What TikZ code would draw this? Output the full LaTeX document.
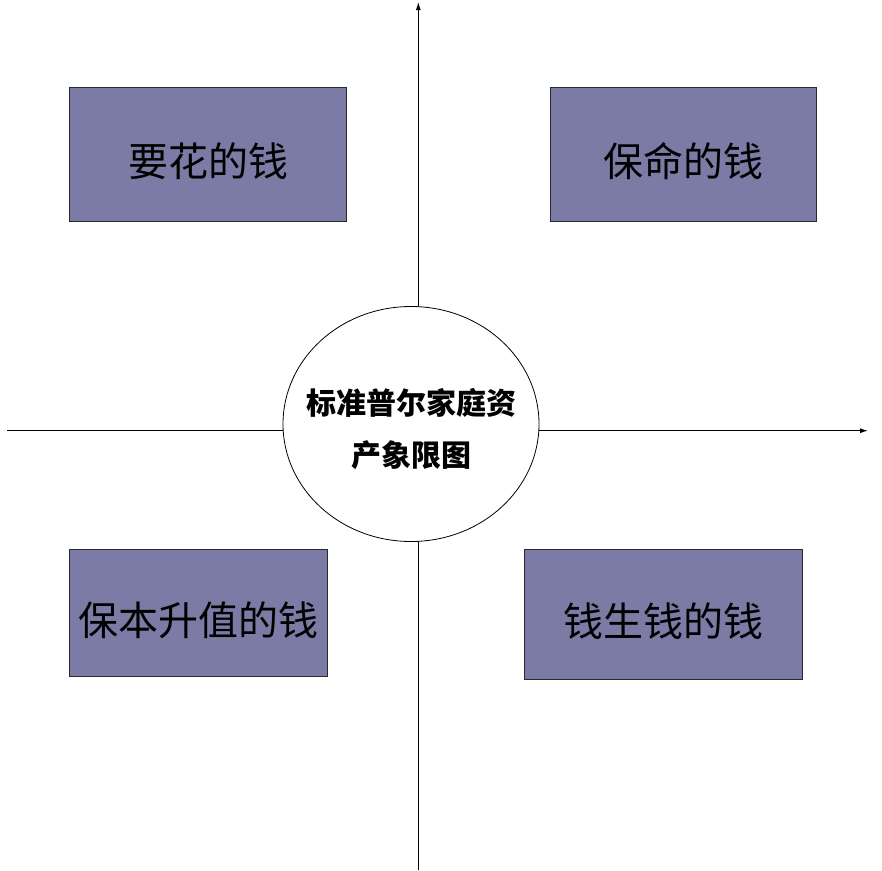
\documentclass[tikz,border=0pt]{standalone}
\usepackage{fontspec}
\newfontfamily\cjk{Noto Sans CJK SC}
\usetikzlibrary{arrows.meta,shapes.geometric}
\definecolor{boxfill}{RGB}{123,123,165}
\definecolor{boxline}{RGB}{40,40,50}
\tikzset{
  quadbox/.style={draw=boxline, line width=0.9pt, fill=boxfill, inner sep=0pt,
    text height=44pt, text depth=0pt,
    font=\cjk\fontsize{40}{48}\selectfont},
  axisline/.style={line width=1pt, draw=black, -{Latex[length=8pt,width=5pt]}},
  centre/.style={ellipse, draw=black, line width=0.8pt, fill=white,
    minimum width=256pt, minimum height=235pt, inner sep=0pt},
  centretext/.style={align=center, inner sep=0pt,
    font=\cjk\bfseries\fontsize{30}{52}\selectfont}
}
\begin{document}
\begin{tikzpicture}[x=1pt,y=-1pt]
\useasboundingbox (0,0) rectangle (882,870);
\coordinate (bot) at (418.3,870);
\coordinate (top) at (418.3,2);
\coordinate (left) at (7,430.7);
\coordinate (right) at (868,430.7);
\draw[axisline] (bot) -- (top);
\draw[axisline] (left) -- (right);
\node[centre] (c) at (411,424) {};
\node[centretext] (ct) at (411,429) {标准普尔家庭资\\产象限图};
\node[quadbox, minimum width=277.4pt, minimum height=134.4pt] (q1) at (208,154.5) {要花的钱};
\node[quadbox, minimum width=266.7pt, minimum height=134.4pt] (q2) at (683.3,154.5) {保命的钱};
\node[quadbox, minimum width=258.4pt, minimum height=127.4pt] (q3) at (198.5,613) {保本升值的钱};
\node[quadbox, minimum width=278pt, minimum height=130pt] (q4) at (663.3,614.3) {钱生钱的钱};
\end{tikzpicture}
\end{document}
